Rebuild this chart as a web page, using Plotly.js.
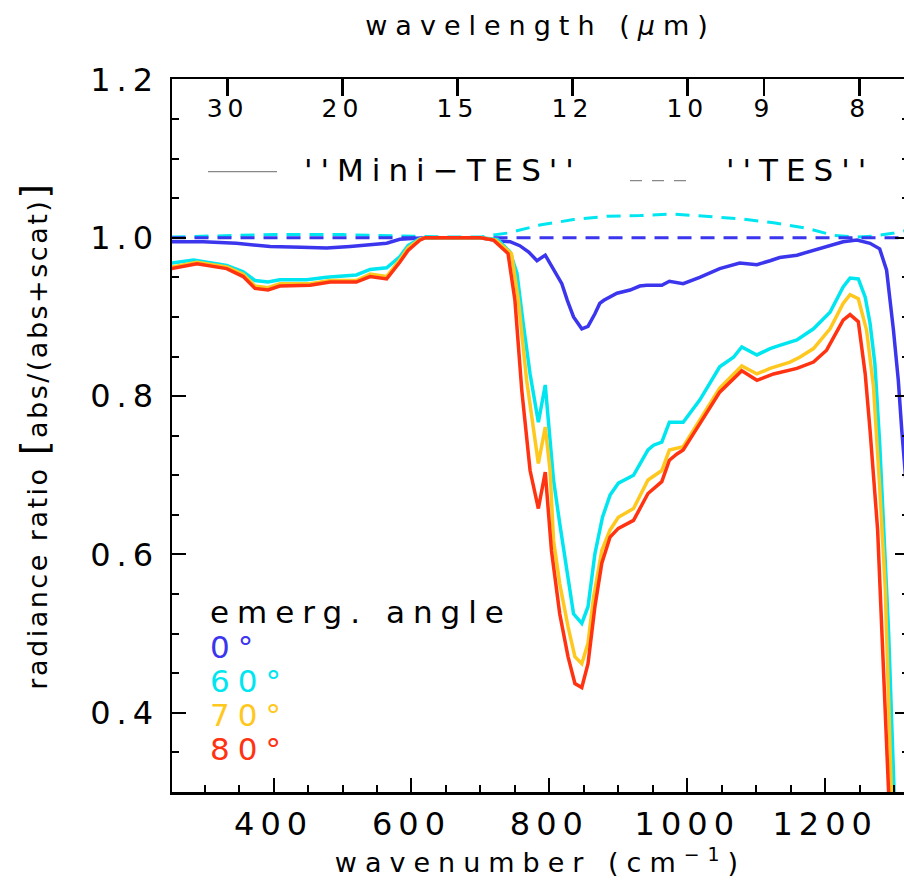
<!DOCTYPE html>
<html>
<head>
<meta charset="utf-8">
<script src="https://cdn.plot.ly/plotly-3.0.1.min.js"></script>
<style>
html, body { margin:0; padding:0; overflow:hidden; background:#fff; }
#chart { width:912px; height:884px; }
.xtick text, .ytick text { letter-spacing: 6px; }
.x2tick text { letter-spacing: 5px; }
.xtitle, .x2title { letter-spacing: 8px; }
.ytitle { letter-spacing: 2.5px; }
.annotation-text { letter-spacing: 8px; }
</style>
</head>
<body>
<div id="chart"></div>
<script>
// ---- data (wavenumber in cm^-1, radiance ratio) ----
// emergence angle 0 deg, "Mini-TES" (solid)
const wn0 = [252, 298, 346, 395, 440, 477, 511, 540, 564, 583, 602, 620, 700, 728, 743, 757, 770, 782, 794, 806, 818, 826, 835, 847, 856, 866, 873, 879, 898, 917, 931, 941, 963, 974, 994, 1018, 1047, 1076, 1101, 1120, 1134, 1159, 1183, 1207, 1226, 1246, 1265, 1279, 1289, 1299, 1306, 1311, 1316, 1322];
const rr0 = [0.995, 0.995, 0.993, 0.989, 0.988, 0.987, 0.989, 0.991, 0.993, 0.998, 0.999, 1.0, 1.0, 0.996, 0.995, 0.990, 0.982, 0.971, 0.978, 0.959, 0.942, 0.921, 0.900, 0.885, 0.888, 0.904, 0.917, 0.921, 0.930, 0.934, 0.939, 0.940, 0.940, 0.945, 0.942, 0.950, 0.961, 0.968, 0.966, 0.971, 0.975, 0.978, 0.984, 0.990, 0.995, 0.997, 0.993, 0.986, 0.959, 0.883, 0.820, 0.757, 0.700, 0.640];

// emergence angle 60 deg (solid)
const wn60 = [252, 284, 332, 356, 373, 392, 409, 448, 477, 520, 540, 564, 583, 595, 610, 622, 700, 725, 743, 753, 762, 772, 784, 794, 801, 806, 815, 825, 835, 847, 856, 866, 877, 888, 900, 922, 943, 951, 963, 974, 994, 1018, 1047, 1067, 1079, 1101, 1120, 1134, 1159, 1183, 1207, 1226, 1236, 1248, 1258, 1265, 1272, 1279, 1285, 1292, 1300, 1302];
const rr60 = [0.968, 0.972, 0.965, 0.957, 0.946, 0.944, 0.947, 0.947, 0.950, 0.953, 0.960, 0.962, 0.976, 0.990, 0.998, 1.0, 1.0, 0.998, 0.982, 0.955, 0.892, 0.828, 0.767, 0.814, 0.744, 0.694, 0.639, 0.584, 0.525, 0.513, 0.534, 0.601, 0.647, 0.675, 0.690, 0.700, 0.732, 0.738, 0.742, 0.767, 0.767, 0.795, 0.837, 0.849, 0.862, 0.852, 0.860, 0.864, 0.871, 0.885, 0.906, 0.938, 0.949, 0.948, 0.925, 0.892, 0.841, 0.740, 0.630, 0.500, 0.298, 0.250];

// emergence angle 70 deg (solid)
const wn70 = [252, 289, 332, 356, 373, 392, 409, 453, 482, 520, 540, 564, 583, 595, 612, 620, 700, 722, 745, 755, 767, 784, 794, 801, 806, 815, 827, 837, 847, 856, 864, 876, 888, 900, 922, 943, 963, 974, 994, 1018, 1047, 1079, 1101, 1120, 1149, 1163, 1183, 1207, 1226, 1236, 1248, 1260, 1270, 1279, 1287, 1296, 1298];
const rr70 = [0.963, 0.969, 0.963, 0.954, 0.939, 0.937, 0.942, 0.942, 0.946, 0.946, 0.954, 0.951, 0.972, 0.987, 0.998, 1.0, 1.0, 0.997, 0.980, 0.921, 0.820, 0.715, 0.761, 0.706, 0.618, 0.563, 0.509, 0.471, 0.462, 0.488, 0.546, 0.605, 0.631, 0.647, 0.658, 0.694, 0.706, 0.732, 0.736, 0.770, 0.810, 0.838, 0.828, 0.835, 0.843, 0.849, 0.860, 0.885, 0.917, 0.928, 0.923, 0.883, 0.812, 0.685, 0.559, 0.298, 0.250];

// emergence angle 80 deg (solid)
const wn80 = [252, 289, 332, 356, 373, 392, 409, 453, 482, 520, 540, 564, 583, 595, 612, 620, 700, 719, 740, 750, 760, 772, 784, 794, 803, 815, 827, 837, 847, 856, 866, 876, 888, 900, 922, 943, 963, 974, 985, 994, 1018, 1047, 1079, 1101, 1125, 1159, 1183, 1202, 1226, 1236, 1248, 1258, 1265, 1270, 1276, 1292, 1294];
const rr80 = [0.961, 0.967, 0.961, 0.951, 0.936, 0.934, 0.939, 0.940, 0.944, 0.944, 0.951, 0.948, 0.969, 0.984, 0.997, 1.0, 1.0, 0.997, 0.980, 0.921, 0.807, 0.706, 0.658, 0.704, 0.605, 0.525, 0.471, 0.437, 0.432, 0.462, 0.534, 0.589, 0.622, 0.633, 0.643, 0.677, 0.692, 0.719, 0.727, 0.732, 0.765, 0.805, 0.832, 0.820, 0.828, 0.835, 0.843, 0.858, 0.896, 0.903, 0.894, 0.828, 0.757, 0.694, 0.631, 0.298, 0.250];

// "TES" (dashed): 0 deg and 60 deg
const wnTes0 = [252, 400, 600, 800, 1000, 1200, 1322];
const rrTes0 = [1.0, 1.0, 1.0, 1.0, 1.0, 1.0, 1.0];
const wnTes60 = [252, 300, 350, 400, 450, 500, 550, 600, 650, 700, 740, 786, 835, 883, 931, 980, 1028, 1076, 1125, 1173, 1212, 1246, 1270, 1300, 1322];
const rrTes60 = [1.001, 1.002, 1.003, 1.004, 1.004, 1.004, 1.003, 1.002, 1.001, 1.001, 1.006, 1.016, 1.023, 1.027, 1.028, 1.030, 1.027, 1.024, 1.019, 1.012, 1.003, 1.001, 1.002, 1.006, 1.010];

// axis ticks
const wavelengthTicks = [30, 20, 15, 12, 10, 9, 8];      // top axis, micrometres
const ratioTicks = [0.4, 0.6, 0.8, 1.0, 1.2];            // left axis

// legend labels
const angleLabels = ['0°', '60°', '70°', '80°'];

// ---- styling ----
const FONT = "'DejaVu Sans ExtraLight', 'DejaVu Sans', sans-serif";
const colors = ['#3b35ee', '#00e6f0', '#ffc81e', '#ff3311'];
const xRange = [252.7, 1321.5];

const traces = [
  {x: wnTes60, y: rrTes60, mode: 'lines', line: {color: colors[1], width: 3, dash: '14px,9px'}},
  {x: wnTes0, y: rrTes0, mode: 'lines', line: {color: colors[0], width: 3, dash: '14px,9px'}},
  {x: wn0, y: rr0, mode: 'lines', line: {color: colors[0], width: 3.5}},
  {x: wn60, y: rr60, mode: 'lines', line: {color: colors[1], width: 3.5}},
  {x: wn70, y: rr70, mode: 'lines', line: {color: colors[2], width: 3.5}},
  {x: wn80, y: rr80, mode: 'lines', line: {color: colors[3], width: 3.5}},
  {x: [], y: [], xaxis: 'x2', mode: 'lines', hoverinfo: 'skip'}
];
traces.forEach(t => { t.showlegend = false; });

const legendY = [0.2030, 0.1553, 0.1077, 0.0600];
const annotations = [
  {text: 'emerg. angle', x: 0.0488, y: 0.2521, color: 'black'},
  ...angleLabels.map((t, i) => ({text: t, x: 0.0488, y: legendY[i], color: colors[i]})),
].map(a => ({
  xref: 'paper', yref: 'paper', x: a.x, y: a.y, xanchor: 'left', yanchor: 'middle',
  text: a.text, showarrow: false, font: {family: FONT, size: 31, color: a.color}
}));
annotations.push(
  {xref: 'paper', yref: 'paper', x: 0.3677, y: 0.8724, xanchor: 'center', yanchor: 'middle',
   text: "''Mini−TES''", showarrow: false, font: {family: FONT, size: 31, color: 'black'}},
  {xref: 'paper', yref: 'paper', x: 0.8521, y: 0.8724, xanchor: 'center', yanchor: 'middle',
   text: "''TES''", showarrow: false, font: {family: FONT, size: 31, color: 'black'}}
);

const axisCommon = {
  showgrid: false, zeroline: false, showline: true, linecolor: 'black', linewidth: 2.5,
  ticks: 'inside', tickcolor: 'black', tickwidth: 2, ticklen: 14
};

const layout = {
  width: 912, height: 884,
  margin: {l: 172, r: 3, t: 79, b: 92},
  paper_bgcolor: 'white', plot_bgcolor: 'white',
  showlegend: false,
  font: {family: FONT, color: 'black'},
  xaxis: Object.assign({}, axisCommon, {
    range: xRange, dtick: 200, tick0: 0,
    minor: {dtick: 50, ticks: 'inside', ticklen: 7, tickwidth: 2, tickcolor: 'black', showgrid: false},
    tickfont: {family: FONT, size: 32, color: 'black'},
    ticklabelstandoff: 2,
    title: {text: 'wavenumber (cm<sup>−1</sup>)', font: {family: FONT, size: 27, color: 'black'}, standoff: 8}
  }),
  xaxis2: Object.assign({}, axisCommon, {
    overlaying: 'x', side: 'top', anchor: 'y', range: xRange,
    tickmode: 'array', tickvals: wavelengthTicks.map(l => 1e4 / l), ticktext: wavelengthTicks.map(String),
    ticklen: 17, tickwidth: 2.5, ticklabelposition: 'outside', ticklabelstandoff: -50,
    tickfont: {family: FONT, size: 25, color: 'black'},
    title: {text: 'wavelength (<i>µ</i>m)', font: {family: FONT, size: 27, color: 'black'}, standoff: 50}
  }),
  yaxis: Object.assign({}, axisCommon, {
    range: [0.3, 1.2005], tickmode: 'array', tickvals: ratioTicks, tickformat: '.1f', mirror: 'ticks',
    minor: {dtick: 0.05, ticks: 'inside', ticklen: 7, tickwidth: 2, tickcolor: 'black', showgrid: false},
    tickfont: {family: FONT, size: 32, color: 'black'},
    ticklabelstandoff: 4,
    title: {text: 'radiance ratio <span style="font-size:38px">[</span>abs/(abs+scat)<span style="font-size:38px">]</span>', font: {family: FONT, size: 27, color: 'black'}, standoff: 35}
  }),
  shapes: [
    {type: 'line', xref: 'paper', yref: 'paper', x0: 0.0488, x1: 0.1425, y0: 0.870, y1: 0.870,
     line: {color: '#888', width: 1.2}},
    {type: 'line', xref: 'paper', yref: 'paper', x0: 0.6214, x1: 0.7028, y0: 0.8574, y1: 0.8574,
     line: {color: '#888', width: 1.2, dash: '12px,10px'}}
  ],
  annotations: annotations
};

Plotly.newPlot('chart', traces, layout, {displayModeBar: false, staticPlot: true});
</script>
</body>
</html>
